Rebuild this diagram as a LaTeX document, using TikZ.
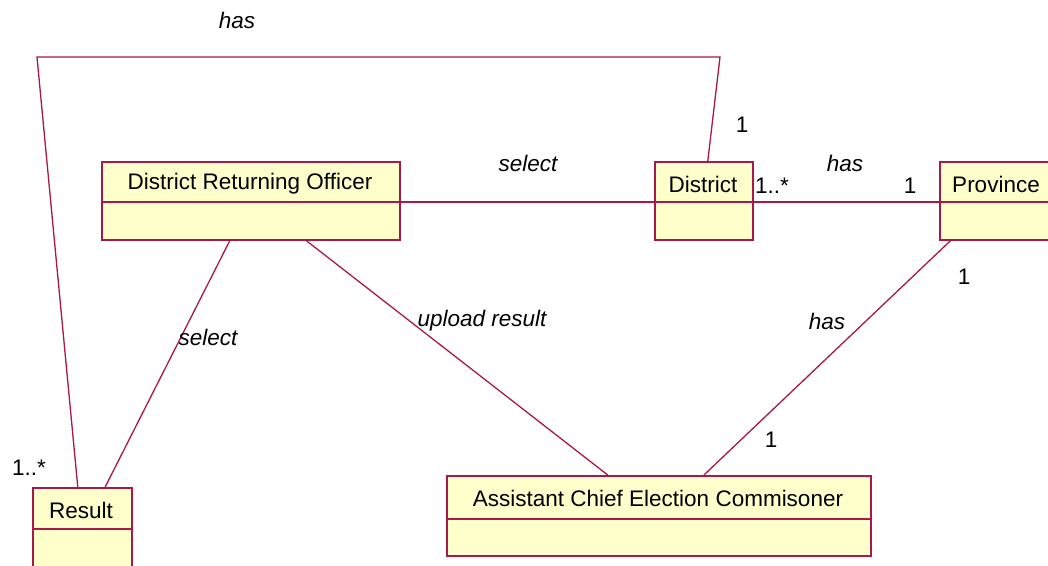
\documentclass[tikz,border=0pt]{standalone}
\usepackage{fontspec}
\setmainfont{Liberation Sans}
\usetikzlibrary{calc}
\definecolor{umlline}{RGB}{168,24,74}
\definecolor{umlfill}{RGB}{255,255,204}
\tikzset{
  cls/.style={draw=umlline, fill=umlfill, line width=1.6pt, anchor=north west, inner sep=0pt},
  clsname/.style={font=\fontsize{22.5}{26}\selectfont, inner sep=0pt},
  divider/.style={draw=umlline, line width=1.6pt},
  assoc/.style={draw=umlline, line width=1.3pt},
  role/.style={font=\itshape\fontsize{22.5}{26}\selectfont, inner sep=0pt},
  mult/.style={font=\fontsize{22.5}{26}\selectfont, inner sep=0pt}
}
\begin{document}
\begin{tikzpicture}[x=1pt, y=-1pt]
\useasboundingbox (0,0) rectangle (1048,565);
\clip (0,0) rectangle (1048,565);

% class boxes: outer frame, name compartment, divider
\node[cls, minimum width=298pt, minimum height=78pt] (dro) at (101,161) {};
\node[clsname] (droname) at (250,184) {District Returning Officer};
\draw[divider] (101,202) -- (399,202);

\node[cls, minimum width=98pt, minimum height=78pt] (dist) at (654,161) {};
\node[clsname] (distname) at (703,184) {District};
\draw[divider] (654,202) -- (752,202);

\node[cls, minimum width=114pt, minimum height=78pt] (prov) at (939,161) {};
\node[clsname] (provname) at (996,184) {Province};
\draw[divider] (939,202) -- (1053,202);

\node[cls, minimum width=99pt, minimum height=80pt] (res) at (32,487) {};
\node[clsname] (resname) at (81,510) {Result};
\draw[divider] (32,529) -- (131,529);

\node[cls, minimum width=424pt, minimum height=80pt] (acec) at (446,475) {};
\node[clsname] (acecname) at (658,498) {Assistant Chief Election Commisoner};
\draw[divider] (446,519) -- (870,519);

% associations
\coordinate (bendR) at (720,57);
\coordinate (bendL) at (37,57);
\draw[assoc] ($(dist.north west)!0.54!(dist.north east)$) -- (bendR) -- (bendL)
  -- ($(res.north west)!0.455!(res.north east)$);
\draw[assoc] (dro.east |- 0,202) -- (dist.west |- 0,202);
\draw[assoc] (dist.east |- 0,202) -- (prov.west |- 0,202);
\draw[assoc] ($(dro.south west)!0.43!(dro.south east)$) -- ($(res.north west)!0.727!(res.north east)$);
\draw[assoc] ($(dro.south west)!0.685!(dro.south east)$) -- ($(acec.north west)!0.38!(acec.north east)$);
\draw[assoc] ($(prov.south west)!0.1!(prov.south east)$) -- ($(acec.north west)!0.606!(acec.north east)$);

% association names
\node[role] (l1) at (237,20) {has};
\node[role] (l2) at (528,163) {select};
\node[role] (l3) at (845,163) {has};
\node[role] (l4) at (208,337) {select};
\node[role] (l5) at (482,321) {upload result};
\node[role] (l6) at (827,321) {has};

% multiplicities
\node[mult] (m1) at (742,125) {1};
\node[mult] (m2) at (772,186) {1..*};
\node[mult] (m3) at (910,186) {1};
\node[mult] (m4) at (964,277) {1};
\node[mult] (m5) at (771,440) {1};
\node[mult] (m6) at (29,468) {1..*};
\end{tikzpicture}
\end{document}
